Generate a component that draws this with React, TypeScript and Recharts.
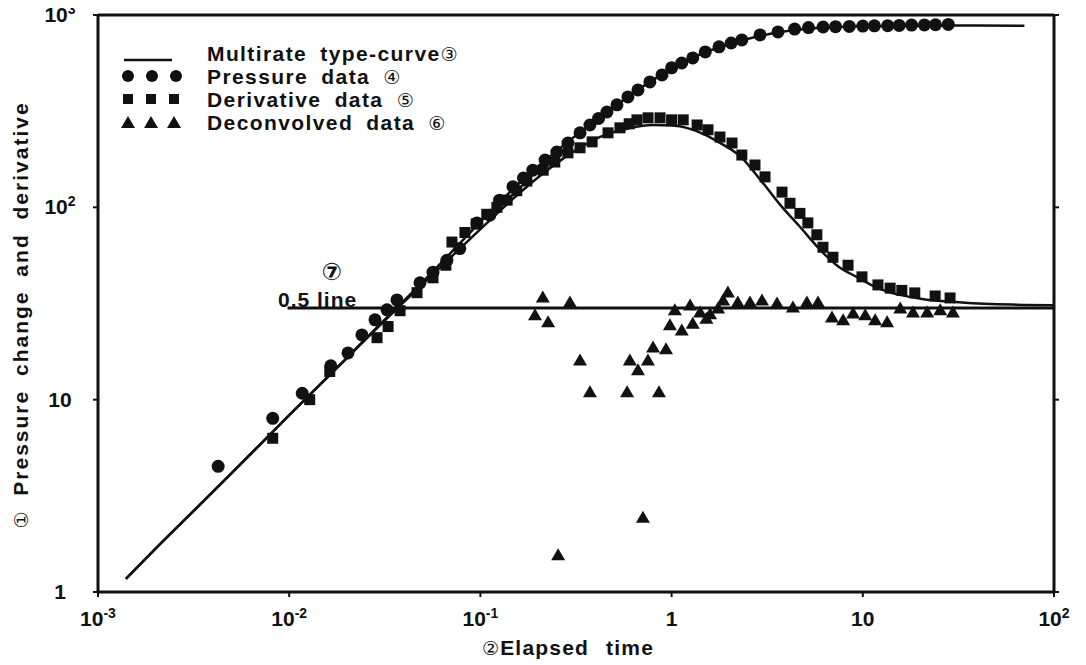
import React from 'react'
import { ComposedChart, Line, Scatter, XAxis, YAxis } from 'recharts'

// axis ticks (log scales)
const xTicks = [0.001, 0.01, 0.1, 1, 10, 100]
const xTickLabels = [['10', '-3'], ['10', '-2'], ['10', '-1'], ['1', ''], ['10', ''], ['10', '2']]
const yTicks = [1, 10, 100, 1000]
const yTickLabels = [['1', ''], ['10', ''], ['10', '2'], ['10', '3']]

// multirate type-curve, pressure branch
const typeT = [0.0014, 0.002, 0.003, 0.005, 0.01, 0.02, 0.03, 0.05, 0.07, 0.1, 0.15, 0.2, 0.3, 0.5, 0.7, 1, 1.5, 2, 3, 5, 7, 10, 20, 40, 70]
const typePressure = [1.17, 1.68, 2.5, 4.15, 8.3, 16.5, 24.8, 41, 58, 84, 126, 163, 227, 333, 422, 525, 640, 705, 785, 845, 865, 875, 880, 882, 880]

// multirate type-curve, derivative branch
const typeDerivT = [0.0014, 0.002, 0.005, 0.01, 0.02, 0.03, 0.05, 0.07, 0.1, 0.15, 0.2, 0.3, 0.42, 0.6, 0.8, 1, 1.2, 1.5, 1.75, 2.3, 3, 3.7, 4.7, 6.2, 7.5, 9.3, 12, 14, 20, 33, 60, 100]
const typeDeriv = [1.17, 1.68, 4.15, 8.3, 16.4, 24.5, 40, 55, 77, 112, 143, 192, 232, 258, 268, 266, 259, 238, 219, 183, 134, 103, 79, 58, 49, 43.5, 38, 36, 33.5, 32, 31.2, 31]

// 0.5 line
const halfT = [0.0098, 100]
const halfV = [30, 30]

// pressure data
const pressT = [0.00425, 0.0082, 0.0117, 0.0165, 0.0203, 0.024, 0.0281, 0.0325, 0.0366, 0.0483, 0.0565, 0.0668, 0.078, 0.096, 0.112, 0.126, 0.148, 0.168, 0.188, 0.218, 0.251, 0.287, 0.332, 0.374, 0.415, 0.459, 0.518, 0.591, 0.667, 0.77, 0.891, 1.0, 1.13, 1.29, 1.5, 1.77, 2.05, 2.33, 2.9, 3.6, 4.4, 5.2, 6.2, 7.2, 8.5, 10, 11.5, 13.5, 15.5, 18, 21, 24, 28]
const pressV = [4.5, 8.0, 10.8, 15, 17.5, 21.7, 26, 29.3, 33, 40.5, 46, 53, 61, 83, 91, 109, 128, 142, 156, 176, 194, 216, 244, 268, 290, 313, 341, 375, 408, 449, 488, 531, 563, 598, 643, 683, 715, 742, 788, 817, 845, 860, 866, 870, 872, 876, 878, 880, 883, 886, 888, 890, 893]

// derivative data
const derT = [0.0082, 0.0128, 0.0163, 0.0288, 0.0329, 0.038, 0.0466, 0.0565, 0.066, 0.071, 0.083, 0.095, 0.108, 0.122, 0.138, 0.155, 0.175, 0.213, 0.245, 0.287, 0.332, 0.384, 0.465, 0.537, 0.6, 0.659, 0.753, 0.87, 1.0, 1.15, 1.36, 1.55, 1.79, 2.07, 2.33, 2.73, 3.08, 3.78, 4.16, 4.69, 5.16, 5.75, 6.19, 6.98, 8.37, 9.9, 12, 13.9, 16, 18.7, 23.9, 28.6]
const derV = [6.3, 10, 14, 21, 24, 29, 36, 43, 50, 66, 74, 82, 92, 100, 109, 122, 137, 156, 172, 192, 204, 219, 244, 259, 272, 285, 292, 292, 285, 285, 268, 253, 232, 216, 187, 166, 144, 120, 105, 93, 83, 72, 62, 55, 50, 43.5, 39.5, 38, 37, 35.9, 34.6, 33.8]

// deconvolved data
const decT = [0.193, 0.212, 0.226, 0.255, 0.294, 0.332, 0.374, 0.585, 0.605, 0.667, 0.708, 0.752, 0.8, 0.859, 0.935, 0.98, 1.04, 1.13, 1.25, 1.29, 1.41, 1.52, 1.59, 1.75, 1.86, 1.97, 2.22, 2.57, 2.97, 3.56, 4.31, 5.1, 5.83, 6.9, 7.89, 8.9, 10.3, 11.6, 13.4, 15.7, 18.3, 21.7, 25.4, 29.6]
const decV = [27.6, 34.2, 25.4, 1.56, 32.2, 16.1, 11, 11, 16.1, 14.3, 2.45, 16.1, 18.8, 11, 18.4, 24.5, 29.3, 23, 31.1, 25, 28.6, 26.5, 28, 30, 33, 36.3, 32.2, 32.2, 33, 31.8, 30.3, 32.2, 32.2, 26.9, 26, 28.2, 27.6, 26, 25.4, 30, 28.6, 28.6, 29.3, 28.6]

const rows = (ts: number[], vs: number[]) => ts.map((t, i) => ({ t, v: vs[i] }))

const INK = '#111'
const FONT = '"Liberation Sans", Arial, sans-serif'
const CIRCLED = '"DejaVu Sans", sans-serif'

function XTick(props: any) {
  const { x, y, payload } = props
  const i = xTicks.indexOf(payload.value)
  const [base, sup] = xTickLabels[i] ?? [String(payload.value), '']
  return (
    <text x={x} y={y + 27} textAnchor="middle" fontSize={21} fontWeight="bold" fontFamily={FONT} fill={INK}>
      <tspan>{base}</tspan>
      {sup && <tspan dy={-8} fontSize={14}>{sup}</tspan>}
    </text>
  )
}

function YTick(props: any) {
  const { x, y, payload } = props
  const i = yTicks.indexOf(payload.value)
  const [base, sup] = yTickLabels[i] ?? [String(payload.value), '']
  return (
    <text x={x - 31} y={y + 7} textAnchor="middle" fontSize={21} fontWeight="bold" fontFamily={FONT} fill={INK}>
      <tspan>{base}</tspan>
      {sup && <tspan dy={-8} fontSize={14}>{sup}</tspan>}
    </text>
  )
}

const NoTick = () => <g />

const Dot = (p: any) => <circle cx={p.cx} cy={p.cy} r={6.5} fill={INK} />
const Sq = (p: any) => <rect x={p.cx - 5.5} y={p.cy - 5.5} width={11} height={11} fill={INK} />
const Tri = (p: any) => (
  <polygon points={`${p.cx - 7},${p.cy + 5.5} ${p.cx + 7},${p.cy + 5.5} ${p.cx},${p.cy - 6.5}`} fill={INK} />
)

export default function App() {
  const axisLine = { stroke: INK, strokeWidth: 3 }
  const tickLine = { stroke: INK, strokeWidth: 2 }
  const circled = { fontFamily: CIRCLED, fontWeight: 'normal' as const, fontSize: 19 }
  return (
    <div style={{ position: 'relative', width: 1086, height: 665, margin: '-8px 0 0 -8px', background: '#fff' }}>
      <ComposedChart width={1086} height={665} margin={{ top: 14, right: 31, bottom: 0, left: 0 }}>
        <XAxis
          type="number"
          dataKey="t"
          scale="log"
          domain={[0.001, 100]}
          ticks={xTicks}
          allowDataOverflow
          height={73}
          tickSize={5}
          tickMargin={2}
          tick={XTick}
          axisLine={axisLine}
          tickLine={tickLine}
        />
        <XAxis
          xAxisId="top"
          orientation="top"
          type="number"
          scale="log"
          domain={[0.001, 100]}
          ticks={xTicks}
          allowDataOverflow
          height={1}
          tickSize={5}
          tick={NoTick}
          axisLine={axisLine}
          tickLine={tickLine}
        />
        <YAxis
          type="number"
          dataKey="v"
          scale="log"
          domain={[1, 1000]}
          ticks={yTicks}
          allowDataOverflow
          width={98}
          tickSize={5}
          tickMargin={2}
          tick={YTick}
          axisLine={axisLine}
          tickLine={tickLine}
        />
        <YAxis
          yAxisId="right"
          orientation="right"
          type="number"
          scale="log"
          domain={[1, 1000]}
          ticks={yTicks}
          allowDataOverflow
          width={1}
          tickSize={5}
          tick={NoTick}
          axisLine={axisLine}
          tickLine={tickLine}
        />
        <Line data={rows(typeT, typePressure)} dataKey="v" type="monotone" stroke={INK} strokeWidth={2.5} dot={false} isAnimationActive={false} />
        <Line data={rows(typeDerivT, typeDeriv)} dataKey="v" type="monotone" stroke={INK} strokeWidth={2.5} dot={false} isAnimationActive={false} />
        <Line data={rows(halfT, halfV)} dataKey="v" type="linear" stroke={INK} strokeWidth={3} dot={false} isAnimationActive={false} />
        <Scatter data={rows(pressT, pressV)} dataKey="v" shape={Dot} isAnimationActive={false} />
        <Scatter data={rows(derT, derV)} dataKey="v" shape={Sq} isAnimationActive={false} />
        <Scatter data={rows(decT, decV)} dataKey="v" shape={Tri} isAnimationActive={false} />
      </ComposedChart>

      <svg width={1086} height={665} style={{ position: 'absolute', left: 0, top: 0, pointerEvents: 'none' }}>
        <g fontFamily={FONT} fontWeight="bold" fontSize={21} fill={INK}>
          {/* legend */}
          <line x1={124} x2={172} y1={60} y2={60} stroke={INK} strokeWidth={2.5} />
          {[128, 152, 176].map((x) => <circle key={'c' + x} cx={x} cy={76} r={6} fill={INK} />)}
          {[128, 151, 174].map((x) => <rect key={'s' + x} x={x - 5} y={94} width={10} height={10} fill={INK} />)}
          {[128, 151, 174].map((x) => (
            <polygon key={'t' + x} points={`${x - 7},${128} ${x + 7},${128} ${x},${116}`} fill={INK} />
          ))}
          <text x={207} y={61} letterSpacing={1.4} wordSpacing={6}>Multirate type-curve<tspan {...circled}>③</tspan></text>
          <text x={207} y={84} letterSpacing={1.4} wordSpacing={6}>Pressure data <tspan {...circled}>④</tspan></text>
          <text x={207} y={107} letterSpacing={1.4} wordSpacing={6}>Derivative data <tspan {...circled}>⑤</tspan></text>
          <text x={207} y={130} letterSpacing={1.4} wordSpacing={6}>Deconvolved data <tspan {...circled}>⑥</tspan></text>

          {/* 0.5 line annotation */}
          <text x={332} y={280} textAnchor="middle" fontFamily={CIRCLED} fontWeight="bold" fontSize={24}>⑦</text>
          <text x={278} y={307} letterSpacing={1}>0.5 line</text>

          {/* axis titles */}
          <text x={568} y={655} textAnchor="middle" letterSpacing={1.2} wordSpacing={10}>
            <tspan {...circled}>②</tspan>Elapsed time
          </text>
          <text
            x={0}
            y={0}
            textAnchor="middle"
            letterSpacing={2}
            wordSpacing={6}
            transform="translate(28 315) rotate(-90)"
          >
            <tspan {...circled}>①</tspan> Pressure change and derivative
          </text>
        </g>
      </svg>
    </div>
  )
}
